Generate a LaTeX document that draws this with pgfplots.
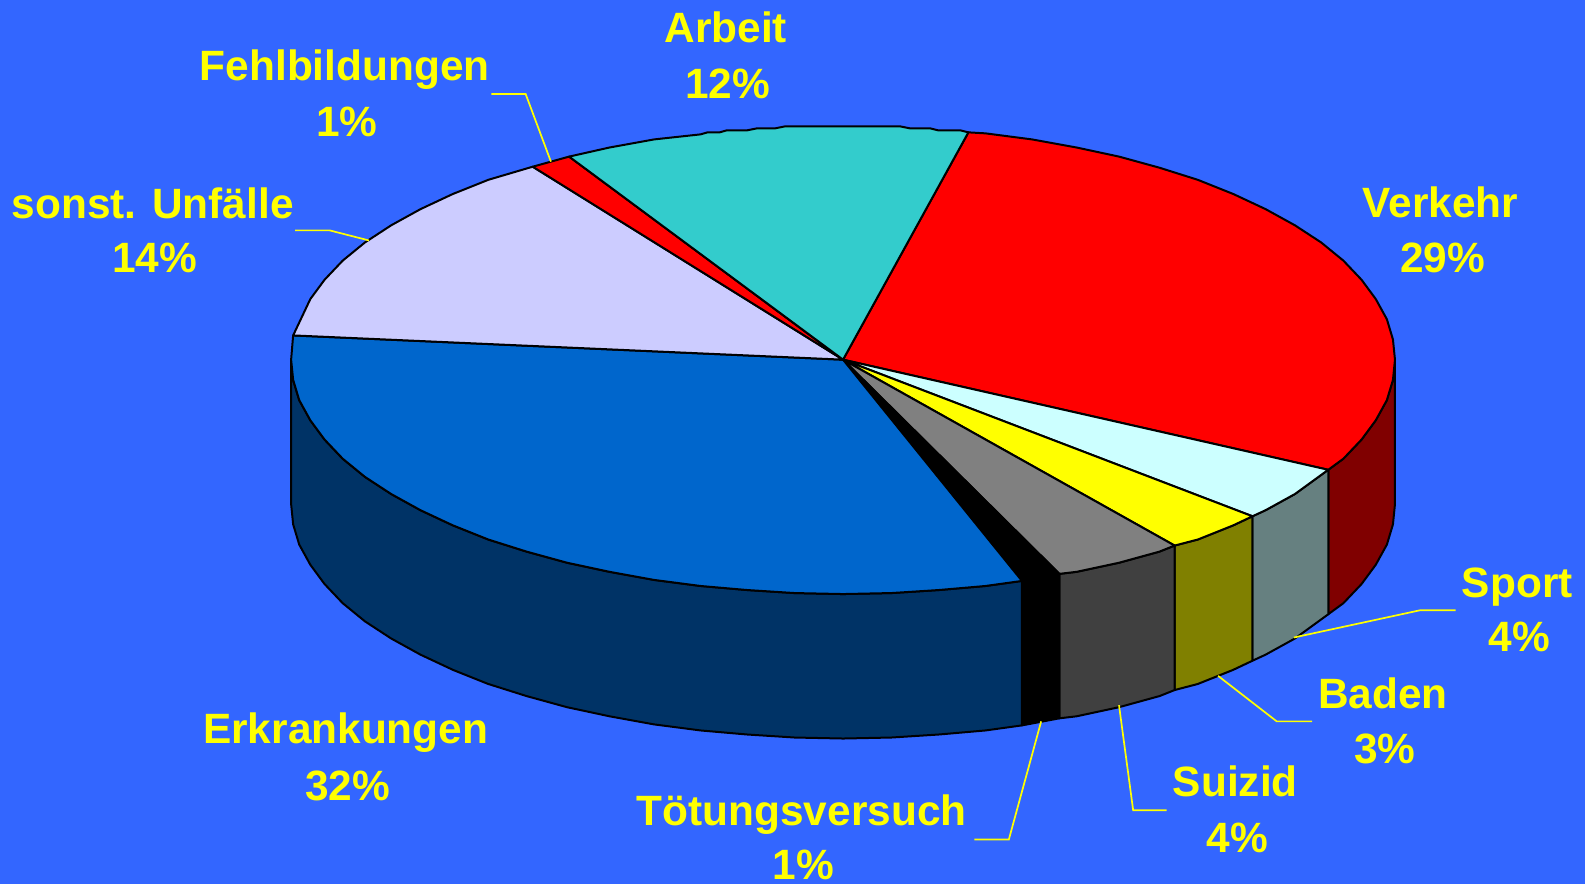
\documentclass[border=0pt]{standalone}
\usepackage{fontspec}
\setmainfont{Liberation Sans}
\usepackage{pgfplots}
\pgfplotsset{compat=1.18}
\definecolor{bg}{HTML}{3366FF}
\definecolor{lab}{HTML}{FFFF00}
\definecolor{cVerk}{HTML}{FF0000}
\definecolor{sVerk}{HTML}{800000}
\definecolor{cSport}{HTML}{CCFFFF}
\definecolor{sSport}{HTML}{668080}
\definecolor{cBaden}{HTML}{FFFF00}
\definecolor{sBaden}{HTML}{808000}
\definecolor{cSuiz}{HTML}{808080}
\definecolor{sSuiz}{HTML}{404040}
\definecolor{cErkr}{HTML}{0066CC}
\definecolor{sErkr}{HTML}{003366}
\definecolor{cSonst}{HTML}{CCCCFF}
\definecolor{cArb}{HTML}{33CCCC}
% label: x, baseline 1, baseline 2, name, percent
\newcommand{\lab}[5]{%
  \node[font=\fontsize{21.2}{26}\bfseries\selectfont,text=lab,inner sep=0pt,anchor=base] at (axis cs:#1,#2) {#4};
  \node[font=\fontsize{21.2}{26}\bfseries\selectfont,text=lab,inner sep=0pt,anchor=base,xshift=1pt] at (axis cs:#1,#3) {#5};
}
\begin{document}
\begin{tikzpicture}
\path[use as bounding box] (0,0) rectangle (792.5pt,442pt);
\begin{axis}[
    at={(0,0)},
    anchor=south west,
    scale only axis,
    width=792.5pt,
    height=442pt,
    xmin=0, xmax=1568,
    ymin=0, ymax=875,
    y dir=reverse,
    hide axis,
    clip=false,
    slice/.style={draw=black, line width=1pt, line join=round, mark=none},
    leader/.style={draw=lab, line width=0.85pt, mark=none}
]
\addplot[fill=bg, draw=none, mark=none] coordinates {(0,0)(1568,0)(1568,875)(0,875)} -- cycle;

% side walls
\addplot[slice, fill=sVerk] coordinates {(1380,356)(1378,376)(1372,396)(1361,416)(1347,435)(1329,454)(1314,465)(1314,608)(1329,597)(1347,578)(1361,559)(1372,539)(1378,519)(1380,499)} -- cycle;
\addplot[slice, fill=sSport] coordinates {(1314,465)(1281,489)(1252,505)(1239,511)(1239,654)(1252,648)(1281,632)(1314,608)} -- cycle;
\addplot[slice, fill=sBaden] coordinates {(1239,511)(1220,520)(1185,534)(1162,540)(1162,683)(1185,677)(1220,663)(1239,654)} -- cycle;
\addplot[slice, fill=sSuiz] coordinates {(1162,540)(1147,546)(1107,557)(1065,566)(1048,568)(1048,711)(1065,709)(1107,700)(1147,689)(1162,683)} -- cycle;
\addplot[slice, fill=black] coordinates {(1048,568)(1011,575)(1011,718)(1048,711)} -- cycle;
\addplot[slice, fill=sErkr] coordinates {(1011,575)(975,580)(929,584)(882,587)(834,588)(786,587)(739,584)(693,580)(647,574)(603,566)(561,557)(521,546)(483,534)(448,520)(416,505)(387,489)(361,472)(339,454)(321,435)(307,416)(296,396)(290,376)(288,356)
  (288,499)(290,519)(296,539)(307,559)(321,578)(339,597)(361,615)(387,632)(416,648)(448,663)(483,677)(521,689)(561,700)(603,709)(647,717)(693,723)(739,727)(786,730)(834,731)(882,730)(929,727)(975,723)(1011,718)} -- cycle;

% top faces
\addplot[slice, fill=cVerk] coordinates {(834,356)(958,131)(975,132)(1021,138)(1065,146)(1107,155)(1147,166)(1185,178)(1220,192)(1252,207)(1281,223)(1307,240)(1329,258)(1347,277)(1361,296)(1372,316)(1378,336)(1380,356)(1378,376)(1372,396)(1361,416)(1347,435)(1329,454)(1314,465)} -- cycle;
\addplot[slice, fill=cSport] coordinates {(834,356)(1314,465)(1281,489)(1252,505)(1239,511)} -- cycle;
\addplot[slice, fill=cBaden] coordinates {(834,356)(1239,511)(1220,520)(1185,534)(1162,540)} -- cycle;
\addplot[slice, fill=cSuiz] coordinates {(834,356)(1162,540)(1147,546)(1107,557)(1065,566)(1048,568)} -- cycle;
\addplot[slice, fill=black] coordinates {(834,356)(1048,568)(1011,575)} -- cycle;
\addplot[slice, fill=cErkr] coordinates {(834,356)(1011,575)(975,580)(929,584)(882,587)(834,588)(786,587)(739,584)(693,580)(647,574)(603,566)(561,557)(521,546)(483,534)(448,520)(416,505)(387,489)(361,472)(339,454)(321,435)(307,416)(296,396)(290,376)(288,356)(290,332)} -- cycle;
\addplot[slice, fill=cSonst] coordinates {(834,356)(290,332)(307,296)(321,277)(339,258)(361,240)(387,223)(416,207)(448,192)(483,178)(527,165)} -- cycle;
\addplot[slice, fill=cVerk] coordinates {(834,356)(527,165)(563,155)} -- cycle;
\addplot[slice, fill=cArb] coordinates {(834,356)(563,155)(603,146)(647,138)(693,133)(700,131)(712,131)(719,129)(739,129)(749,127)(767,127)(777,125)(890,125)(900,127)(920,127)(928,129)(950,129)(958,131)} -- cycle;

% leader lines
\addplot[leader] coordinates {(486,93)(520,93)(545,160)};
\addplot[leader] coordinates {(292,228)(326,228)(365,238)};
\addplot[leader] coordinates {(1280,631)(1405,604)(1440,604)};
\addplot[leader] coordinates {(1205,669)(1263,714)(1298,714)};
\addplot[leader] coordinates {(1107,698)(1121,802)(1154,802)};
\addplot[leader] coordinates {(1030,714)(998,831)(964,831)};

\lab{718}{42}{97}{Arbeit}{12\%}
\lab{341}{80}{135}{Fehlbildungen}{1\%}
\lab{151}{216}{270}{sonst. Unfälle}{14\%}
\lab{1425}{215}{270}{Verkehr}{29\%}
\lab{1501}{591}{645}{Sport}{4\%}
\lab{1368}{701}{756}{Baden}{3\%}
\lab{1222}{788}{844}{Suizid}{4\%}
\lab{793}{817}{871}{Tötungsversuch}{1\%}
\lab{342}{736}{792}{Erkrankungen}{32\%}
\end{axis}
\end{tikzpicture}
\end{document}
